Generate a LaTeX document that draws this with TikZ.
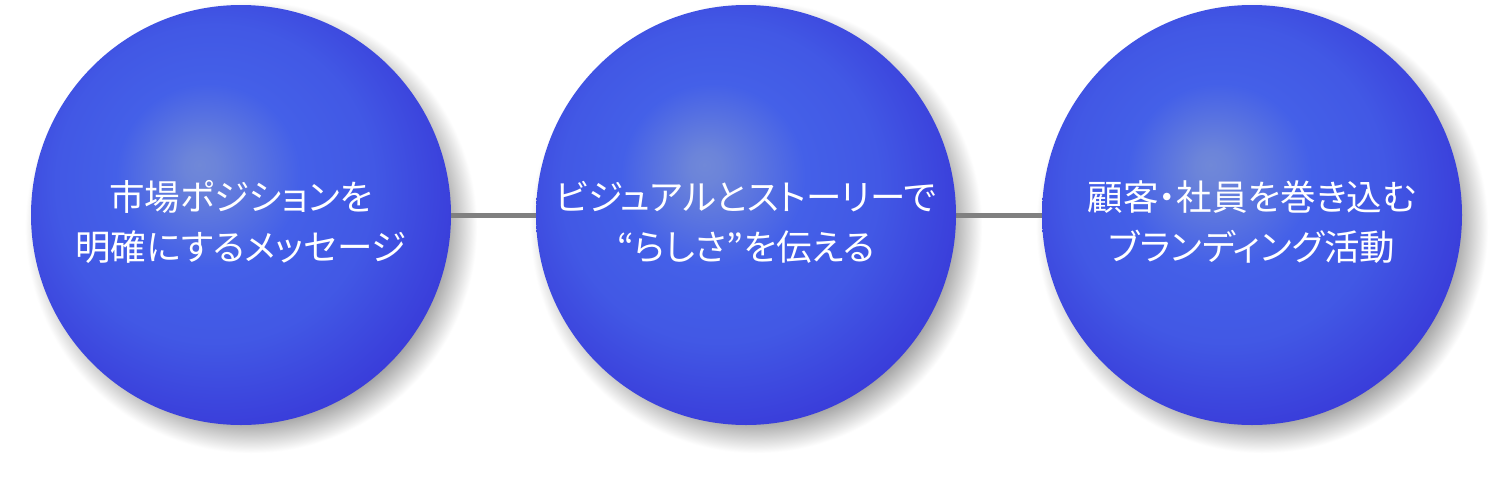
\documentclass[tikz,border=0pt]{standalone}
\usepackage{fontspec}
\usetikzlibrary{backgrounds}
\newfontfamily\jp[RawFeature=+palt]{Noto Sans CJK JP}
\definecolor{orbhl}{HTML}{7088D8}
\definecolor{orbmid}{HTML}{4460E8}
\definecolor{orbedge}{HTML}{3838D8}
\definecolor{linkgray}{HTML}{808080}
\pgfdeclareradialshading{orb}{\pgfpoint{-5bp}{6bp}}{color(0bp)=(orbhl); color(2bp)=(orbhl!90!orbmid); color(11bp)=(orbmid); color(19bp)=(orbmid!80!orbedge); color(30bp)=(orbedge); color(50bp)=(orbedge)}
\pgfdeclareradialshading{orbshadow}{\pgfpoint{0bp}{0bp}}{color(0bp)=(black!42); color(21bp)=(black!40); color(23bp)=(black!20); color(25bp)=(white); color(50bp)=(white)}
\tikzset{
  orbnode/.style={circle, minimum size=420pt, inner sep=0pt, shading=orb},
  shadownode/.style={circle, minimum size=452pt, inner sep=0pt, shading=orbshadow},
  orbtext/.style={text=white, align=center, font=\jp\fontsize{35.5}{50}\selectfont},
  link/.style={draw=linkgray, line width=5pt}
}
\begin{document}
\begin{tikzpicture}[x=1pt, y=-1pt]
\useasboundingbox (0,0) rectangle (1500,488);
\node[orbnode] (o1) at (241,215) {};
\node[orbnode] (o2) at (746,215) {};
\node[orbnode] (o3) at (1252,215) {};
\node[orbtext] (t1) at (241,222) {市場ポジションを\\明確にするメッセージ};
\node[orbtext] (t2) at (746,222) {ビジュアルとストーリーで\\“らしさ”を伝える};
\node[orbtext] (t3) at (1252,222) {顧客・社員を巻き込む\\ブランディング活動};
\begin{scope}[on background layer]
\fill[white] (0,0) rectangle (1500,488);
\node[shadownode] (s1) at (251,227) {};
\node[shadownode] (s2) at (756,227) {};
\node[shadownode] (s3) at (1262,227) {};
\draw[link] ([xshift=-4pt]o1.east) -- ([xshift=4pt]o2.west);
\draw[link] ([xshift=-4pt]o2.east) -- ([xshift=4pt]o3.west);
\end{scope}
\end{tikzpicture}
\end{document}
